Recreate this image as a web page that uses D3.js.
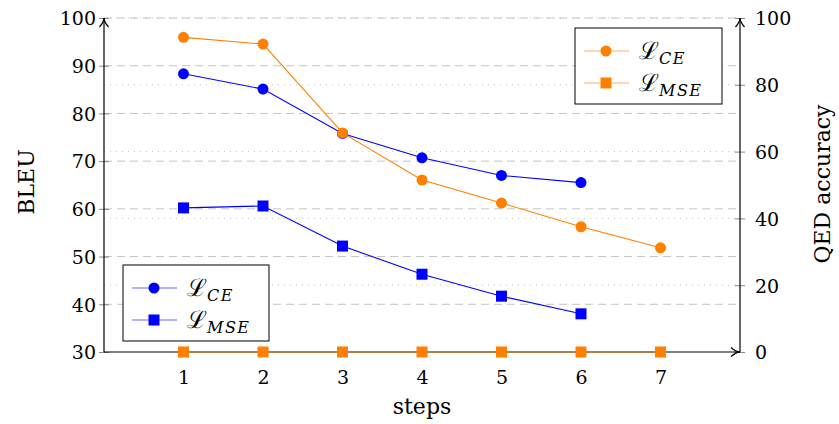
<!DOCTYPE html>
<html>
<head>
<meta charset="utf-8">
<script src="https://cdn.jsdelivr.net/npm/d3@7"></script>
<style>
  body { margin: 0; background: #fff; }
</style>
</head>
<body>
<script>
var width = 839, height = 424;

// data
var steps = [1, 2, 3, 4, 5, 6, 7];
var bleuCE = [88.3, 85.1, 75.8, 70.7, 67.0, 65.5];
var bleuMSE = [60.2, 60.6, 52.2, 46.3, 41.7, 38.0];
var qedCE = [94.2, 92.2, 65.6, 51.5, 44.6, 37.5, 31.2];
var qedMSE = [0, 0, 0, 0, 0, 0, 0];
var leftTicks = [30, 40, 50, 60, 70, 80, 90, 100];
var rightTicks = [0, 20, 40, 60, 80, 100];

var blue = "#0000ff", orange = "#ff8000";
var serif = "'DejaVu Serif', serif";
var fs = 19, tfs = 22;

var svg = d3.select("body").append("svg")
  .attr("width", width)
  .attr("height", height)
  .attr("font-family", serif);

var x = d3.scaleLinear().domain([0, 8]).range([104, 740]);
var yL = d3.scaleLinear().domain([30, 100]).range([352, 18]);
var yR = d3.scaleLinear().domain([0, 100]).range([352, 18]);

var defs = svg.append("defs");
defs.append("marker")
  .attr("id", "arrow")
  .attr("viewBox", "0 0 12 12")
  .attr("refX", 11).attr("refY", 6)
  .attr("markerWidth", 12).attr("markerHeight", 12)
  .attr("markerUnits", "userSpaceOnUse")
  .attr("orient", "auto")
  .append("path")
  .attr("d", "M2,1.5 Q7,6 11,6 Q7,6 2,10.5")
  .attr("fill", "none").attr("stroke", "#000").attr("stroke-width", 1.3);

// grid: dashed for left ticks, dotted for right ticks
svg.append("g").selectAll("line")
  .data(leftTicks.slice(1))
  .enter().append("line")
  .attr("x1", x(0)).attr("x2", x(8))
  .attr("y1", function (d) { return yL(d); })
  .attr("y2", function (d) { return yL(d); })
  .attr("stroke", "#c4c4c4").attr("stroke-width", 1)
  .attr("stroke-dasharray", "8,5");

svg.append("g").selectAll("line")
  .data(rightTicks.slice(1))
  .enter().append("line")
  .attr("x1", x(0)).attr("x2", x(8))
  .attr("y1", function (d) { return yR(d); })
  .attr("y2", function (d) { return yR(d); })
  .attr("stroke", "#c4c4c4").attr("stroke-width", 1)
  .attr("stroke-dasharray", "1,5");

// left axis
var gl = svg.append("g").attr("transform", "translate(" + x(0) + ",0)")
  .call(d3.axisLeft(yL).tickValues(leftTicks).tickSize(5));
gl.attr("font-family", serif).attr("font-size", fs);
gl.select(".domain").remove();
gl.selectAll(".tick line").attr("x1", -5).attr("x2", 5).attr("stroke", "#888");
gl.selectAll(".tick text").attr("x", -8).attr("dy", "0.36em");

// right axis
var gr = svg.append("g").attr("transform", "translate(" + x(8) + ",0)")
  .call(d3.axisRight(yR).tickValues(rightTicks).tickSize(5));
gr.attr("font-family", serif).attr("font-size", fs);
gr.select(".domain").remove();
gr.selectAll(".tick line").attr("x1", -5).attr("x2", 5).attr("stroke", "#888");
gr.selectAll(".tick text").attr("x", 15).attr("dy", "0.36em");

// bottom axis
var gb = svg.append("g").attr("transform", "translate(0," + yL(30) + ")")
  .call(d3.axisBottom(x).tickValues(steps).tickSize(0));
gb.attr("font-family", serif).attr("font-size", fs);
gb.select(".domain").remove();
gb.selectAll(".tick text").attr("y", 32).attr("dy", 0);

// axis lines with arrows
svg.append("line").attr("x1", x(0)).attr("x2", x(0)).attr("y1", yL(30)).attr("y2", yL(100))
  .attr("stroke", "#000").attr("stroke-width", 1.2).attr("marker-end", "url(#arrow)");
svg.append("line").attr("x1", x(8)).attr("x2", x(8)).attr("y1", yL(30)).attr("y2", yL(100))
  .attr("stroke", "#000").attr("stroke-width", 1.2).attr("marker-end", "url(#arrow)");
svg.append("line").attr("x1", x(0)).attr("x2", x(8)).attr("y1", yL(30)).attr("y2", yL(30))
  .attr("stroke", "#000").attr("stroke-width", 1.2).attr("marker-end", "url(#arrow)");

// axis titles
svg.append("text").attr("transform", "translate(34,182) rotate(-90)")
  .attr("text-anchor", "middle").attr("font-size", tfs).text("BLEU");
svg.append("text").attr("transform", "translate(830,184) rotate(-90)")
  .attr("text-anchor", "middle").attr("font-size", tfs).text("QED accuracy");
svg.append("text").attr("x", x(4)).attr("y", 414)
  .attr("text-anchor", "middle").attr("font-size", tfs).text("steps");

function drawSeries(vals, scale, color, shape, lineOpacity) {
  var line = d3.line()
    .x(function (d, i) { return x(steps[i]); })
    .y(function (d) { return scale(d); });
  svg.append("path").datum(vals)
    .attr("d", line).attr("fill", "none")
    .attr("stroke", color).attr("stroke-width", 1.1)
    .attr("stroke-opacity", lineOpacity);
  var g = svg.append("g");
  if (shape === "circle") {
    g.selectAll("circle").data(vals).enter().append("circle")
      .attr("cx", function (d, i) { return x(steps[i]); })
      .attr("cy", function (d) { return scale(d); })
      .attr("r", 5.5).attr("fill", color);
  } else {
    g.selectAll("rect").data(vals).enter().append("rect")
      .attr("x", function (d, i) { return x(steps[i]) - 5.5; })
      .attr("y", function (d) { return scale(d) - 5.5; })
      .attr("width", 11).attr("height", 11).attr("fill", color);
  }
}

drawSeries(bleuCE, yL, blue, "circle", 1);
drawSeries(bleuMSE, yL, blue, "square", 1);
drawSeries(qedCE, yR, orange, "circle", 1);
drawSeries(qedMSE, yR, orange, "square", 0.75);

function legend(x0, y0, w, h, color) {
  var g = svg.append("g").attr("transform", "translate(" + x0 + "," + y0 + ")");
  g.append("rect").attr("width", w).attr("height", h)
    .attr("fill", "#fff").attr("stroke", "#000").attr("stroke-width", 1);
  var rows = [{ shape: "circle", sub: "CE", y: 23 }, { shape: "square", sub: "MSE", y: 55 }];
  rows.forEach(function (r) {
    g.append("line").attr("x1", 9).attr("x2", 54).attr("y1", r.y).attr("y2", r.y)
      .attr("stroke", color).attr("stroke-opacity", 0.6).attr("stroke-width", 1.2);
    if (r.shape === "circle") {
      g.append("circle").attr("cx", 31).attr("cy", r.y).attr("r", 5.5).attr("fill", color);
    } else {
      g.append("rect").attr("x", 25.5).attr("y", r.y - 5.5).attr("width", 11).attr("height", 11).attr("fill", color);
    }
    var t = g.append("text").attr("x", 64).attr("y", r.y + 8).attr("font-size", 24);
    t.append("tspan").text("\u2112");
    t.append("tspan").attr("dy", 5).attr("font-size", 16).attr("font-style", "italic")
      .attr("letter-spacing", "1.5px").text(r.sub);
  });
}

legend(575, 28, 147, 76, orange);
legend(123, 265, 146, 76, blue);
</script>
</body>
</html>
